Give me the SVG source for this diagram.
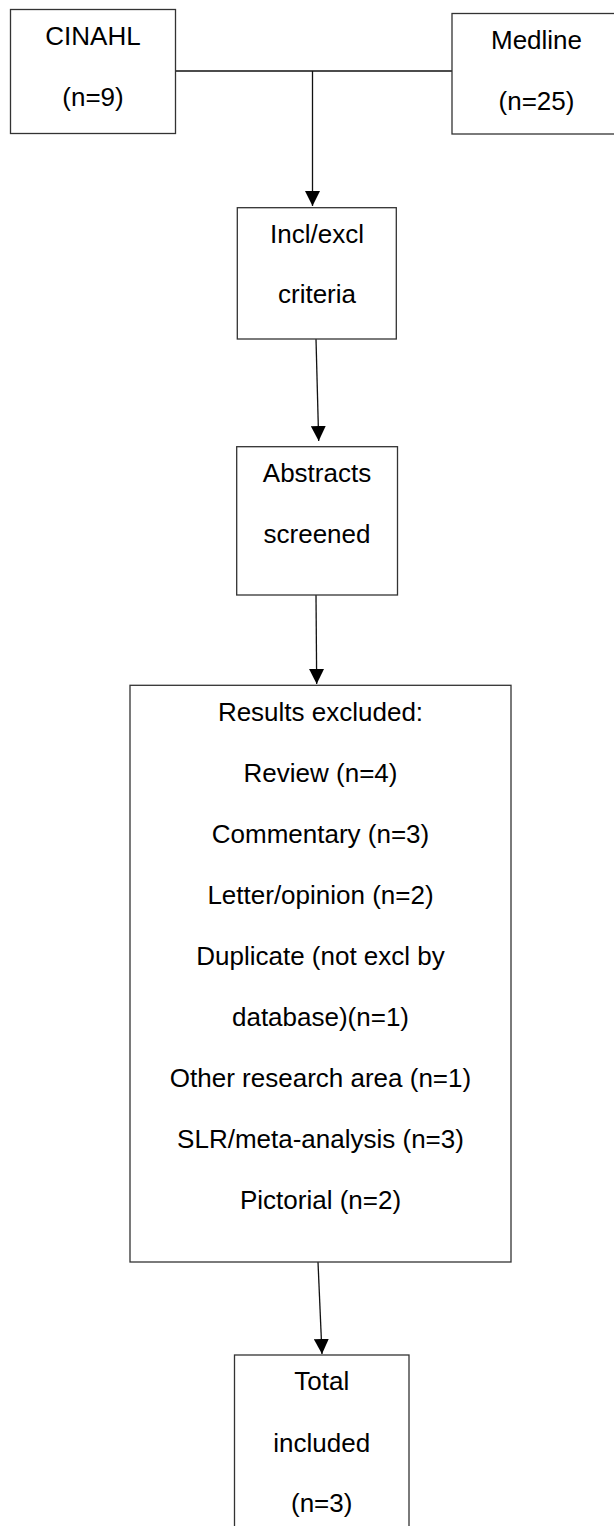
<svg xmlns="http://www.w3.org/2000/svg" width="614" height="1526" viewBox="0 0 614 1526">
  <style>
    .box { fill: #ffffff; stroke: #333333; stroke-width: 1.3; }
    .lbl { font-family: "Liberation Sans", Arial, sans-serif; font-size: 26px; fill: #000000; text-anchor: middle; }
    .link { fill: none; stroke: #111111; stroke-width: 1.3; }
  </style>
  <defs>
    <marker id="arrow" viewBox="0 0 15 15" refX="15" refY="7.5" markerWidth="15" markerHeight="15" markerUnits="userSpaceOnUse" orient="auto">
      <path d="M0,0 L15,7.5 L0,15 Z" fill="#000000"/>
    </marker>
  </defs>
  <rect width="614" height="1526" fill="#ffffff"/>

  <!-- connectors -->
  <g id="connectors">
    <line class="link" x1="175.5" y1="71" x2="452" y2="71"/>
    <line class="link" x1="312.5" y1="71" x2="312.5" y2="206" marker-end="url(#arrow)"/>
    <line class="link" x1="316" y1="339" x2="318.7" y2="441" marker-end="url(#arrow)"/>
    <line class="link" x1="316" y1="595" x2="316.7" y2="684" marker-end="url(#arrow)"/>
    <line class="link" x1="318" y1="1262" x2="322" y2="1354" marker-end="url(#arrow)"/>
  </g>

  <!-- source databases -->
  <g id="cinahl">
    <rect class="box" x="10.5" y="9.5" width="165" height="124"/>
    <text class="lbl" x="93" y="45">CINAHL</text>
    <text class="lbl" x="93" y="106">(n=9)</text>
  </g>
  <g id="medline">
    <rect class="box" x="452" y="13.5" width="170" height="120.5"/>
    <text class="lbl" x="536.5" y="48.5">Medline</text>
    <text class="lbl" x="536.5" y="110">(n=25)</text>
  </g>

  <!-- screening steps -->
  <g id="criteria">
    <rect class="box" x="237.3" y="207.7" width="159" height="131.3"/>
    <text class="lbl" x="317" y="242.7">Incl/excl</text>
    <text class="lbl" x="317" y="303">criteria</text>
  </g>
  <g id="abstracts">
    <rect class="box" x="236.7" y="446.7" width="160.8" height="148.3"/>
    <text class="lbl" x="317" y="481.7">Abstracts</text>
    <text class="lbl" x="317" y="543">screened</text>
  </g>

  <!-- exclusions -->
  <g id="excluded">
    <rect class="box" x="130" y="685.3" width="381" height="576.7"/>
    <text class="lbl" x="320.5" y="720.5">Results excluded:</text>
    <text class="lbl" x="320.5" y="781.5">Review (n=4)</text>
    <text class="lbl" x="320.5" y="842.5">Commentary (n=3)</text>
    <text class="lbl" x="320.5" y="903.5">Letter/opinion (n=2)</text>
    <text class="lbl" x="320.5" y="964.5">Duplicate (not excl by</text>
    <text class="lbl" x="320.5" y="1025.5">database)(n=1)</text>
    <text class="lbl" x="320.5" y="1086.5">Other research area (n=1)</text>
    <text class="lbl" x="320.5" y="1147.5">SLR/meta-analysis (n=3)</text>
    <text class="lbl" x="320.5" y="1208.5">Pictorial (n=2)</text>
  </g>

  <!-- final count -->
  <g id="included">
    <rect class="box" x="234.5" y="1355" width="174.5" height="200"/>
    <text class="lbl" x="321.7" y="1390">Total</text>
    <text class="lbl" x="321.7" y="1451.5">included</text>
    <text class="lbl" x="321.7" y="1512">(n=3)</text>
  </g>
</svg>
